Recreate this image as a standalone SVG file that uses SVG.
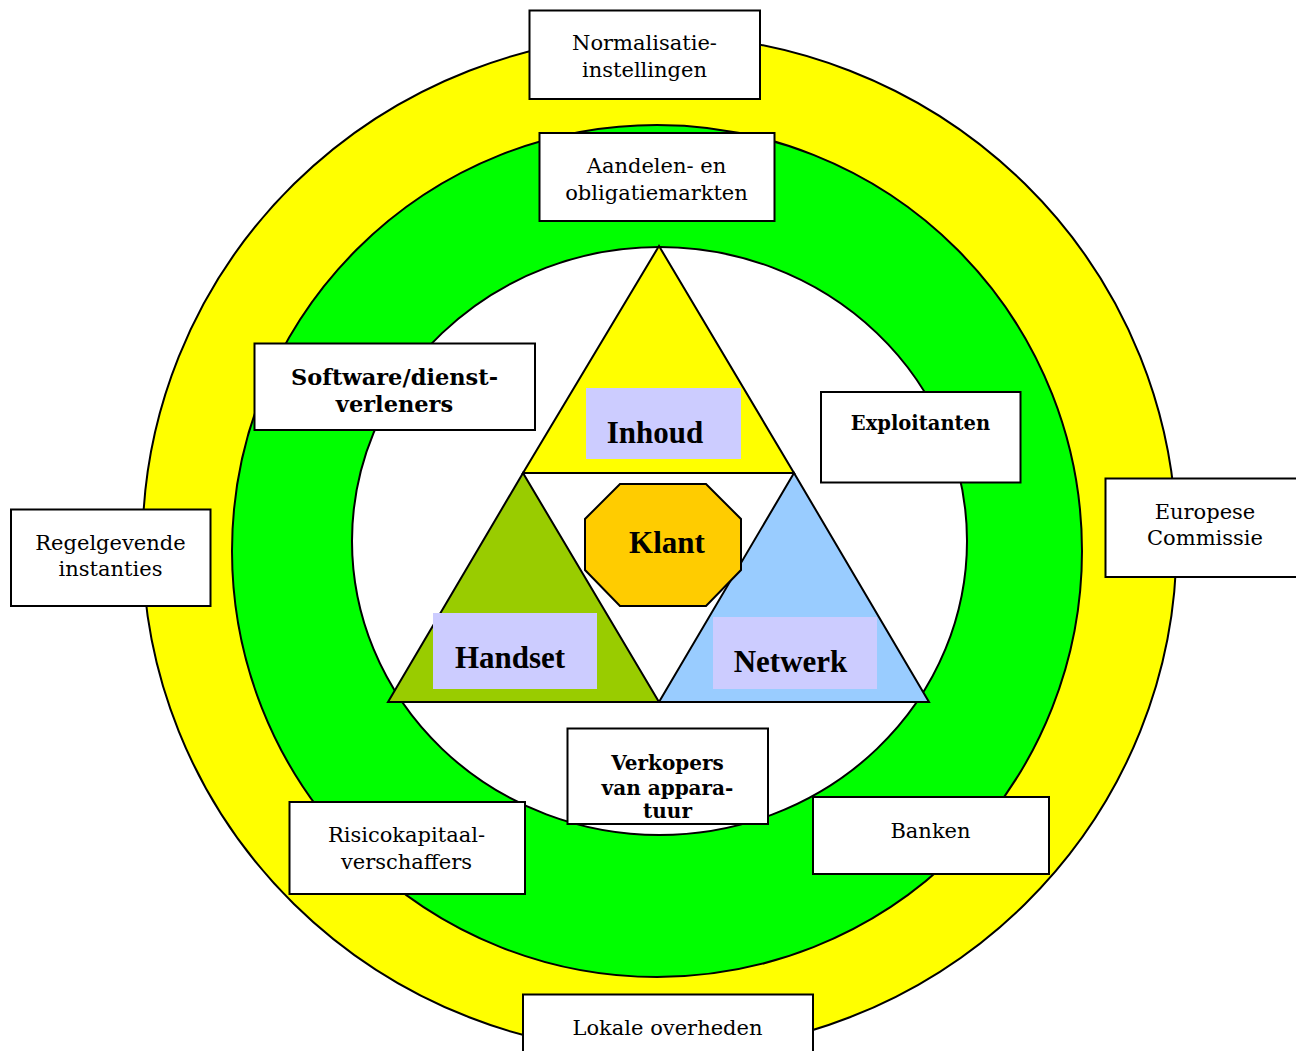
<svg xmlns="http://www.w3.org/2000/svg" width="1296" height="1051" viewBox="0 0 1296 1051">
<style>
.ring{stroke:#000;stroke-width:2}
.box{fill:#fff;stroke:#000;stroke-width:2}
.t{font-family:"DejaVu Serif","Liberation Serif",serif;font-size:21px;fill:#000;text-anchor:middle}
.tb{font-family:"DejaVu Serif","Liberation Serif",serif;font-weight:bold;font-size:19.5px;fill:#000;text-anchor:middle}
.big{font-family:"Liberation Serif","Times New Roman",serif;font-weight:bold;font-size:31px;fill:#000;text-anchor:middle}
.lav{fill:#CCCCFF}
.tri{stroke:#000;stroke-width:2;stroke-linejoin:miter}
</style>
<rect width="1296" height="1051" fill="#fff"/>
<g id="rings">
<ellipse class="ring" cx="659.5" cy="544" rx="517" ry="509" fill="#FFFF00"/>
<ellipse class="ring" cx="657" cy="551" rx="425" ry="426" fill="#00FF00"/>
<ellipse class="ring" cx="659.5" cy="541" rx="307.5" ry="294" fill="#FFFFFF"/>
</g>
<g id="inhoud">
<polygon class="tri" points="659,246 523,473 794,473" fill="#FFFF00"/>
<rect class="lav" x="586" y="388" width="155" height="71"/>
<text class="big" x="655" y="443">Inhoud</text>
</g>
<g id="handset">
<polygon class="tri" points="523,473 388,702 659,702" fill="#99CC00"/>
<rect class="lav" x="433" y="613" width="164" height="76"/>
<text class="big" x="510" y="668">Handset</text>
</g>
<g id="netwerk">
<polygon class="tri" points="794,473 659,702 929,702" fill="#99CCFF"/>
<rect class="lav" x="713" y="617" width="164" height="72"/>
<text class="big" x="790.5" y="672">Netwerk</text>
</g>
<g id="klant">
<polygon points="620,484 706,484 741,519 741,570 706,606 620,606 585,570 585,519" fill="#FFCC00" stroke="#000" stroke-width="2"/>
<text class="big" x="667" y="553">Klant</text>
</g>
<g id="normalisatie">
<rect class="box" x="529.5" y="10.5" width="230.5" height="88.5"/>
<text class="t" x="644.5" y="50">Normalisatie-</text>
<text class="t" x="644.5" y="77">instellingen</text>
</g>
<g id="aandelen">
<rect class="box" x="539.5" y="133" width="235" height="88"/>
<text class="t" x="656.5" y="173">Aandelen- en</text>
<text class="t" x="656.5" y="200">obligatiemarkten</text>
</g>
<g id="software">
<rect class="box" x="254.5" y="343.5" width="280.5" height="86.5"/>
<text class="tb" x="394.5" y="385" style="font-size:22.5px">Software/dienst-</text>
<text class="tb" x="394.5" y="411.5" style="font-size:22.5px">verleners</text>
</g>
<g id="exploitanten">
<rect class="box" x="821" y="392" width="199.5" height="90.5"/>
<text class="tb" x="920.5" y="430">Exploitanten</text>
</g>
<g id="europese">
<rect class="box" x="1105.5" y="478.5" width="200" height="98.5"/>
<text class="t" x="1205" y="519">Europese</text>
<text class="t" x="1205" y="545">Commissie</text>
</g>
<g id="regelgevende">
<rect class="box" x="11" y="509.5" width="199.5" height="96.5"/>
<text class="t" x="110.5" y="550">Regelgevende</text>
<text class="t" x="110.5" y="576">instanties</text>
</g>
<g id="verkopers">
<rect class="box" x="567.5" y="728.5" width="200.5" height="95.5"/>
<text class="tb" x="667.5" y="770" style="font-size:20px">Verkopers</text>
<text class="tb" x="667.5" y="795" style="font-size:20px">van appara-</text>
<text class="tb" x="667.5" y="818" style="font-size:20px">tuur</text>
</g>
<g id="risicokapitaal">
<rect class="box" x="289.5" y="802" width="235.5" height="92"/>
<text class="t" x="406.5" y="841.5">Risicokapitaal-</text>
<text class="t" x="406.5" y="869">verschaffers</text>
</g>
<g id="banken">
<rect class="box" x="813" y="797" width="236" height="77"/>
<text class="t" x="930.5" y="838">Banken</text>
</g>
<g id="lokale">
<rect class="box" x="523" y="994.5" width="290" height="70"/>
<text class="t" x="667.5" y="1035">Lokale overheden</text>
</g>
</svg>
